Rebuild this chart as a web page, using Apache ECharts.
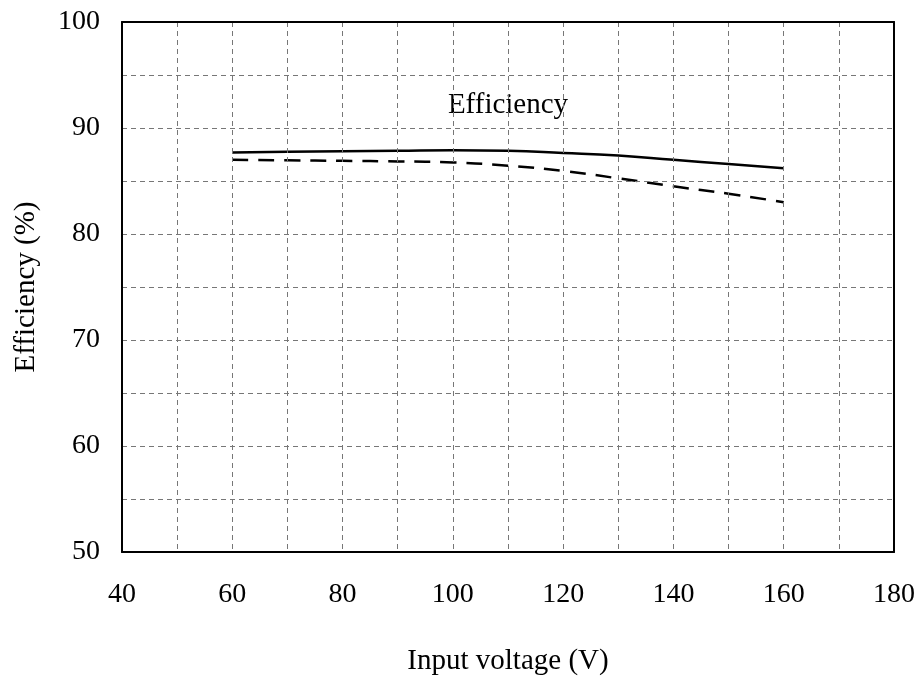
<!DOCTYPE html>
<html>
<head>
<meta charset="utf-8">
<script src="https://cdn.jsdelivr.net/npm/echarts@6/dist/echarts.min.js"></script>
<style>html,body{margin:0;padding:0;background:#fff}#c{width:919px;height:686px}</style>
</head>
<body>
<div id="c"></div>
<script>
const voltage = [60, 70, 80, 90, 100, 110, 120, 130, 140, 150, 160];
const effSolid = [87.7, 87.75, 87.8, 87.85, 87.9, 87.85, 87.65, 87.4, 87.0, 86.6, 86.2];
const effDashed = [87.0, 86.95, 86.9, 86.85, 86.75, 86.45, 85.95, 85.25, 84.5, 83.8, 83.0];
const annotation = { text: 'Efficiency', x: 110, y: 92.1 };
const xTicks = [40, 60, 80, 100, 120, 140, 160, 180];
const yTicks = [50, 60, 70, 80, 90, 100];

const font = '"Liberation Serif", "Times New Roman", serif';
const chart = echarts.init(document.getElementById('c'));
const gridLine = { show: true, lineStyle: { color: '#777', type: [5, 4], width: 1 } };
const frameAxis = { show: true, lineStyle: { color: '#000', width: 2 } };
chart.setOption({
  animation: false,
  backgroundColor: '#fff',
  grid: { left: 122, right: 25, top: 22, bottom: 134, containLabel: false },
  xAxis: [{
    type: 'value', min: 40, max: 180, interval: 10,
    name: 'Input voltage (V)', nameLocation: 'middle', nameGap: 95,
    nameTextStyle: { fontFamily: font, fontSize: 29, color: '#000' },
    axisLine: frameAxis,
    axisTick: { show: false },
    axisLabel: { fontFamily: font, fontSize: 28, color: '#000', margin: 29,
      formatter: v => xTicks.includes(v) ? String(v) : '' },
    splitLine: gridLine, z: 5
  }, {
    type: 'value', position: 'top', min: 40, max: 180, interval: 10,
    axisLine: frameAxis, axisTick: { show: false }, axisLabel: { show: false }, splitLine: { show: false }, z: 5
  }],
  yAxis: [{
    type: 'value', min: 50, max: 100, interval: 5,
    name: 'Efficiency (%)', nameLocation: 'middle', nameGap: 81,
    nameTextStyle: { fontFamily: font, fontSize: 29, color: '#000' },
    axisLine: frameAxis,
    axisTick: { show: false },
    axisLabel: { fontFamily: font, fontSize: 28, color: '#000', margin: 22,
      formatter: v => yTicks.includes(v) ? String(v) : '' },
    splitLine: gridLine, z: 5
  }, {
    type: 'value', position: 'right', min: 50, max: 100, interval: 5,
    axisLine: frameAxis, axisTick: { show: false }, axisLabel: { show: false }, splitLine: { show: false }, z: 5
  }],
  series: [
    { type: 'line', data: voltage.map((v, i) => [v, effSolid[i]]), smooth: true, symbol: 'none',
      lineStyle: { color: '#000', width: 2.5, type: 'solid' } },
    { type: 'line', data: voltage.map((v, i) => [v, effDashed[i]]), smooth: true, symbol: 'none',
      lineStyle: { color: '#000', width: 2.5, type: [16, 10] } },
    { type: 'scatter', data: [[annotation.x, annotation.y]], symbolSize: 0, silent: true,
      itemStyle: { opacity: 1 },
      label: { show: true, position: 'inside', formatter: annotation.text,
        fontFamily: font, fontSize: 29, color: '#000', opacity: 1 } }
  ]
});
</script>
</body>
</html>
